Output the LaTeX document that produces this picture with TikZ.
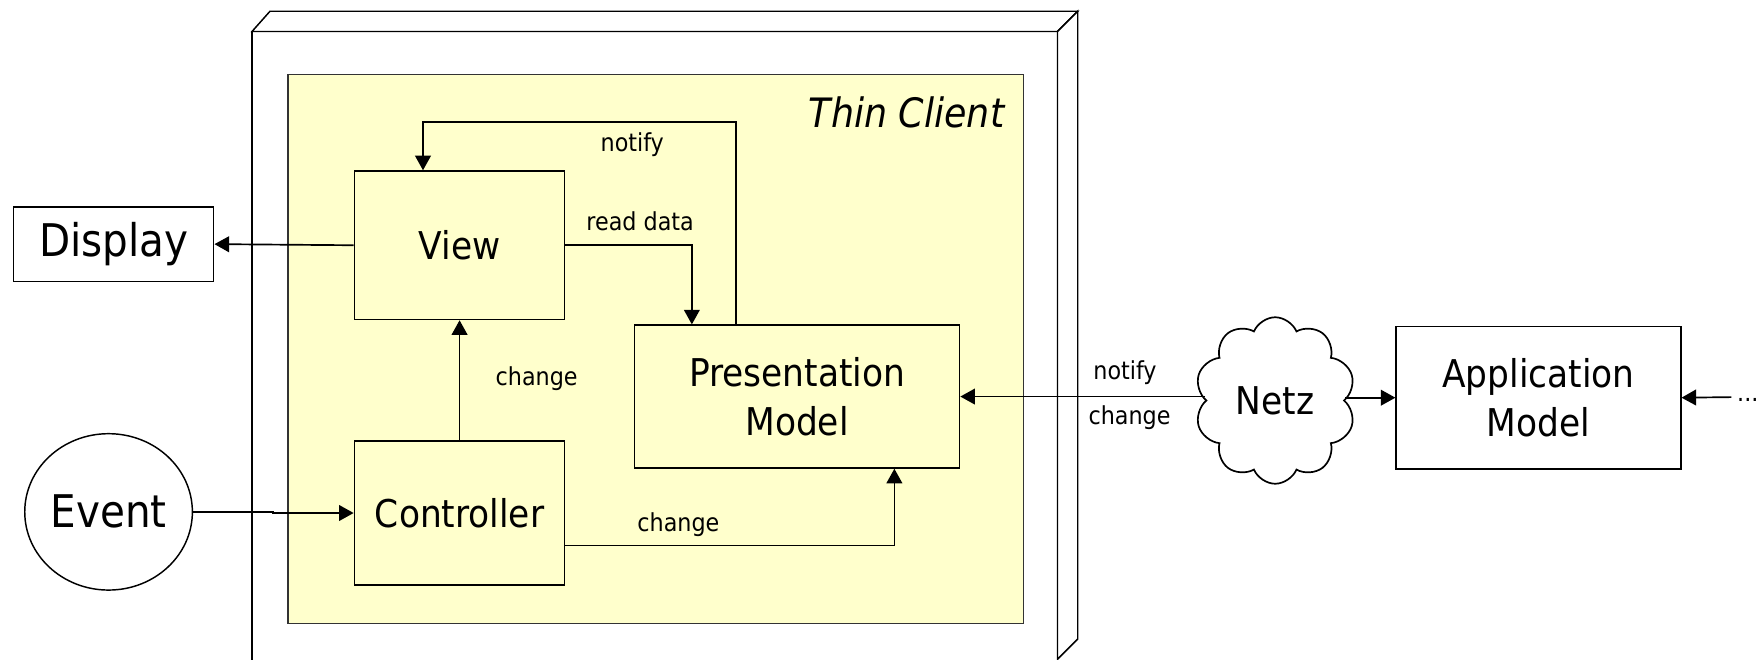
\documentclass[tikz,border=0pt]{standalone}
\usepackage{fontspec}
\setmainfont{DejaVu Sans Condensed}
\usetikzlibrary{arrows.meta,shapes.symbols,shapes.geometric}
\definecolor{clientyellow}{HTML}{FFFFCC}
\tikzset{
  box/.style={draw, line width=1.3pt, inner sep=0pt},
  arr/.style={line width=1.5pt, -{Triangle[length=13pt,width=14pt]}},
  lbl/.style={inner sep=0pt, font=\fontsize{22}{26}\selectfont},
  big/.style={font=\fontsize{34}{43}\selectfont, align=center},
  huge/.style={font=\fontsize{40}{48}\selectfont},
}
\begin{document}
\begin{tikzpicture}[x=1pt,y=-1pt]
\useasboundingbox (0,0) rectangle (1568,586);
\clip (0,0) rectangle (1568,586);

% housing of the thin client
\draw[line width=1.3pt,fill=white] (224,28)--(240,10)--(958,10)--(940,28)--cycle;
\draw[line width=1.3pt,fill=white] (940,28)--(958,10)--(958,568)--(940,586)--cycle;
\draw[line width=1.3pt] (224,600)--(224,28)--(940,28)--(940,600);

\draw[line width=1.3pt,draw=black!80,fill=clientyellow] (256,66) rectangle (910,554);
\node[anchor=base east,inner sep=0pt,font=\fontsize{36}{40}\selectfont\itshape] (thin) at (893,113) {Thin Client};

% boxes
\node[box,minimum width=187pt,minimum height=132pt,big] (view) at (408.5,218) {View};
\node[box,minimum width=187pt,minimum height=128pt,big] (ctrl) at (408.5,456) {Controller};
\node[box,minimum width=289pt,minimum height=127pt,big] (pm) at (708.5,352.5) {Presentation\\Model};
\node[box,minimum width=178pt,minimum height=66pt,huge] (display) at (101,217) {Display};
\node[draw,ellipse,line width=1.3pt,minimum width=149pt,minimum height=139pt,inner sep=0pt,huge] (event) at (96.5,455) {Event};
\node[draw,cloud,cloud puffs=10,cloud puff arc=135,aspect=0.97,line width=1.5pt,
  minimum width=143pt,minimum height=148pt,inner sep=0pt,big] (netz) at (1133.5,356) {Netz};
\node[box,minimum width=253pt,minimum height=127pt,big] (app) at (1367.5,353.5) {Application\\Model};
\node[lbl,anchor=base west] (dots) at (1544,357) {...};
\coordinate (more) at (1539,353);

% connectors
\draw[arr] (view.west) -- (display.east);
\draw[arr] (event.east) -- ++(71,0) |- (ctrl.west);
\draw[arr] (ctrl.north) -- (view.south);
\draw[arr] (view.east) -| ([xshift=-93.5pt]pm.north);
\draw[arr] ([xshift=-54.5pt]pm.north) -- ++(0,-180) -| ([xshift=-32.5pt]view.north);
\draw[arr] ([yshift=-29pt]ctrl.east) -| ([xshift=86.5pt]pm.south);
\draw[arr] (pm.east -| netz.west) -- (pm.east);
\draw[arr] (netz.east |- app.west) -- (app.west);
\draw[arr] (more) -- (app.east);

% labels
\node[lbl] (lchange) at (477,337) {change};
\node[lbl] (lread) at (569,197) {read data};
\node[lbl] (lnotify) at (562,129) {notify};
\node[lbl] (lchangeb) at (603,466) {change};
\node[lbl] (lnotifyn) at (1000,331) {notify};
\node[lbl] (lchangen) at (1004,371) {change};
\end{tikzpicture}
\end{document}
